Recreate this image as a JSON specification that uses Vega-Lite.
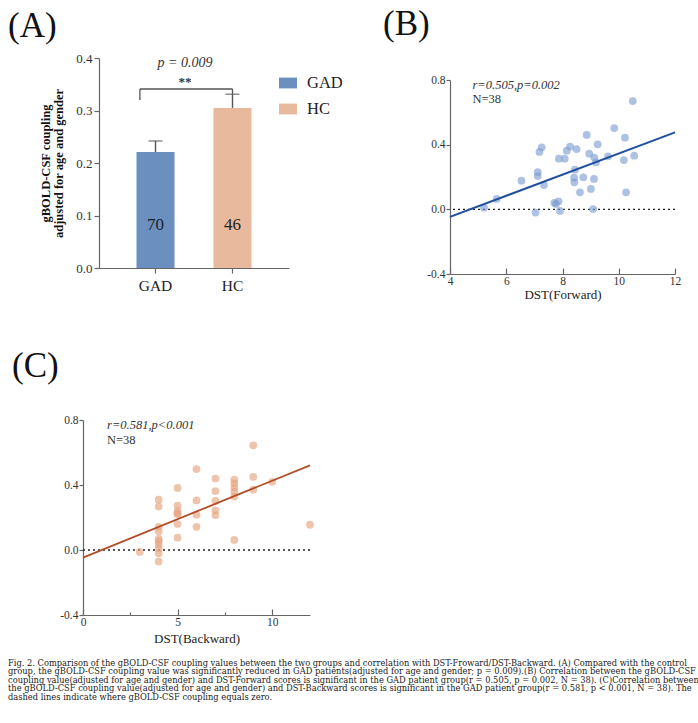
{
  "$schema": "https://vega.github.io/schema/vega-lite/v6.json",
  "background": "white",
  "padding": {"left": 8, "top": 7, "right": 5, "bottom": 5},
  "config": {
    "view": {"stroke": null},
    "font": "Liberation Serif",
    "axis": {
      "grid": false,
      "labelFlush": false,
      "labelOverlap": false,
      "domainColor": "#666666",
      "domainWidth": 1.2,
      "tickColor": "#666666",
      "tickWidth": 1.2,
      "tickSize": 5,
      "labelFont": "Liberation Serif",
      "labelColor": "#333333",
      "labelFontSize": 13,
      "titleFont": "Liberation Serif",
      "titleFontWeight": "normal",
      "titleColor": "#222222",
      "titleFontSize": 13
    },
    "title": {"font": "Liberation Serif", "fontWeight": "normal", "color": "#111111"}
  },
  "title": {
    "text": [
      "Fig. 2. Comparison of the gBOLD-CSF coupling values between the two groups and correlation with DST-Froward/DST-Backward. (A) Compared with the control",
      "group, the gBOLD-CSF coupling value was significantly reduced in GAD patients(adjusted for age and gender; p = 0.009).(B) Correlation between the gBOLD-CSF",
      "coupling value(adjusted for age and gender) and DST-Forward scores is significant in the GAD patient group(r = 0.505, p = 0.002, N = 38). (C)Correlation between",
      "the gBOLD-CSF coupling value(adjusted for age and gender) and DST-Backward scores is significant in the GAD patient group(r = 0.581, p < 0.001, N = 38). The",
      "dashed lines indicate where gBOLD-CSF coupling equals zero."
    ],
    "orient": "bottom",
    "anchor": "start",
    "frame": "bounds",
    "font": "DejaVu Serif",
    "fontSize": 8.3,
    "lineHeight": 8.5,
    "color": "#222222",
    "offset": 13
  },
  "vconcat": [
    {
      "hconcat": [
        {
          "hconcat": [
            {
              "width": 1,
              "height": 1,
              "data": {"values": []},
              "mark": {"type": "point", "opacity": 0}
            },
            {
              "width": 190,
              "height": 210,
              "title": {"text": "(A)", "fontSize": 35, "anchor": "start", "frame": "group", "dx": -91, "offset": 8},
              "layer": [
                {
                  "data": {"values": [
                    {"group": "GAD", "value": 0.221, "upper": 0.242, "n": "70"},
                    {"group": "HC", "value": 0.305, "upper": 0.331, "n": "46"}
                  ]},
                  "layer": [
                    {
                      "mark": {"type": "bar"},
                      "encoding": {
                        "x": {"field": "group", "type": "nominal", "sort": ["GAD", "HC"],
                          "scale": {"paddingInner": 0.506, "paddingOuter": 0.487},
                          "axis": {"title": null, "labelAngle": 0, "labelFontSize": 15.5, "labelPadding": 5, "labelColor": "#222222"}},
                        "y": {"field": "value", "type": "quantitative",
                          "scale": {"domain": [0, 0.4], "nice": false},
                          "axis": {"values": [0, 0.1, 0.2, 0.3, 0.4], "format": ".1f", "labelPadding": 2,
                            "title": ["gBOLD-CSF coupling", "adjusted for age and gender"],
                            "titleFontWeight": "bold", "titleFontSize": 12.5, "titlePadding": 10, "titleLineHeight": 13, "titleColor": "#111111"}},
                        "color": {"field": "group", "type": "nominal",
                          "scale": {"domain": ["GAD", "HC"], "range": ["#6b8fbf", "#e8b99c"]},
                          "legend": {"title": null, "orient": "none", "legendX": 196, "legendY": 16,
                            "symbolType": "M-1,-0.6H1V0.6H-1Z", "symbolSize": 324, "symbolStrokeWidth": 0,
                            "labelFontSize": 16.5, "labelFont": "Liberation Serif", "labelColor": "#222222",
                            "labelOffset": 10, "rowPadding": 8, "padding": 0}}
                      }
                    },
                    {
                      "mark": {"type": "rule", "color": "#555555", "strokeWidth": 1.4},
                      "encoding": {
                        "x": {"field": "group", "type": "nominal", "sort": ["GAD", "HC"]},
                        "y": {"field": "value", "type": "quantitative"},
                        "y2": {"field": "upper"}
                      }
                    },
                    {
                      "mark": {"type": "tick", "color": "#555555", "thickness": 1.4, "size": 14, "orient": "horizontal"},
                      "encoding": {
                        "x": {"field": "group", "type": "nominal", "sort": ["GAD", "HC"]},
                        "y": {"field": "upper", "type": "quantitative"}
                      }
                    },
                    {
                      "mark": {"type": "text", "fontSize": 17, "color": "#222222", "font": "Liberation Serif"},
                      "encoding": {
                        "x": {"field": "group", "type": "nominal", "sort": ["GAD", "HC"]},
                        "y": {"datum": 0.082, "type": "quantitative"},
                        "text": {"field": "n"}
                      }
                    }
                  ]
                },
                {
                  "data": {"values": [
                    {"g1": "GAD", "y1": 0.32, "y2": 0.341},
                    {"g1": "HC", "y1": 0.331, "y2": 0.341}
                  ]},
                  "layer": [
                    {
                      "transform": [{"filter": "datum.g1 == 'GAD'"}],
                      "mark": {"type": "rule", "color": "#555555", "strokeWidth": 1.3},
                      "encoding": {
                        "x": {"field": "g1", "type": "nominal", "sort": ["GAD", "HC"], "bandPosition": 0.09},
                        "y": {"field": "y1", "type": "quantitative"},
                        "y2": {"field": "y2"}
                      }
                    },
                    {
                      "transform": [{"filter": "datum.g1 == 'HC'"}],
                      "mark": {"type": "rule", "color": "#555555", "strokeWidth": 1.3},
                      "encoding": {
                        "x": {"field": "g1", "type": "nominal", "sort": ["GAD", "HC"], "bandPosition": 0.5},
                        "y": {"field": "y1", "type": "quantitative"},
                        "y2": {"field": "y2"}
                      }
                    }
                  ]
                },
                {
                  "data": {"values": [{"a": "GAD", "b": "HC", "y": 0.341}]},
                  "mark": {"type": "rule", "color": "#555555", "strokeWidth": 1.3},
                  "encoding": {
                    "x": {"field": "a", "type": "nominal", "sort": ["GAD", "HC"], "bandPosition": 0.09},
                    "x2": {"field": "b", "bandPosition": 0.5},
                    "y": {"field": "y", "type": "quantitative"}
                  }
                },
                {
                  "data": {"values": [{"label": "p = 0.009", "y": 0.39}, {"label": "**", "y": 0.355}]},
                  "layer": [
                    {
                      "transform": [{"filter": "datum.label != '**'"}],
                      "mark": {"type": "text", "fontSize": 14, "fontStyle": "italic", "color": "#333333", "dx": -9},
                      "encoding": {"y": {"field": "y", "type": "quantitative"}, "text": {"field": "label"}}
                    },
                    {
                      "transform": [{"filter": "datum.label == '**'"}],
                      "mark": {"type": "text", "fontSize": 13, "fontWeight": "bold", "color": "#333333", "dx": -9},
                      "encoding": {"y": {"field": "y", "type": "quantitative"}, "text": {"field": "label"}}
                    }
                  ]
                }
              ]
            }
          ],
          "spacing": -76
        },
        {
          "vconcat": [
            {
              "width": 1,
              "height": 1,
              "data": {"values": []},
              "mark": {"type": "point", "opacity": 0}
            },
            {
              "width": 225,
              "height": 194,
              "title": {"text": "(B)", "fontSize": 35, "anchor": "start", "frame": "group", "dx": -67, "offset": 32},
              "layer": [
                {
                  "data": {"values": [{"y": 0}]},
                  "mark": {"type": "rule", "color": "#222222", "strokeDash": [2, 3], "strokeWidth": 1.3},
                  "encoding": {"y": {"field": "y", "type": "quantitative"}}
                },
                {
                  "data": {"values": [
                    {"x": 5.21, "y": 0.01}, {"x": 5.66, "y": 0.064}, {"x": 6.54, "y": 0.177}, {"x": 7.04, "y": -0.02},
                    {"x": 7.12, "y": 0.23}, {"x": 7.12, "y": 0.206}, {"x": 7.18, "y": 0.355}, {"x": 7.26, "y": 0.384},
                    {"x": 7.34, "y": 0.15}, {"x": 7.71, "y": 0.04}, {"x": 7.77, "y": 0.033}, {"x": 7.86, "y": 0.05},
                    {"x": 7.91, "y": -0.01}, {"x": 7.87, "y": 0.313}, {"x": 8.08, "y": 0.313}, {"x": 8.15, "y": 0.363},
                    {"x": 8.27, "y": 0.388}, {"x": 8.5, "y": 0.373}, {"x": 8.44, "y": 0.245}, {"x": 8.41, "y": 0.196},
                    {"x": 8.42, "y": 0.167}, {"x": 8.62, "y": 0.105}, {"x": 8.74, "y": 0.198}, {"x": 8.86, "y": 0.46},
                    {"x": 8.95, "y": 0.344}, {"x": 9.01, "y": 0.126}, {"x": 9.09, "y": 0.002}, {"x": 9.12, "y": 0.188},
                    {"x": 9.13, "y": 0.32}, {"x": 9.19, "y": 0.29}, {"x": 9.25, "y": 0.402}, {"x": 9.62, "y": 0.328},
                    {"x": 9.84, "y": 0.503}, {"x": 10.18, "y": 0.305}, {"x": 10.22, "y": 0.443}, {"x": 10.26, "y": 0.105},
                    {"x": 10.5, "y": 0.67}, {"x": 10.55, "y": 0.332}
                  ]},
                  "mark": {"type": "circle", "color": "#7b9bd0", "opacity": 0.62, "size": 60},
                  "encoding": {
                    "x": {"field": "x", "type": "quantitative",
                      "scale": {"domain": [4, 12], "nice": false, "zero": false},
                      "axis": {"values": [4, 5, 6, 7, 8, 9, 10, 11, 12], "labelExpr": "datum.value % 2 == 0 ? datum.label : ''",
                        "tickSize": {"condition": {"test": "datum.value % 2 == 0", "value": -6}, "value": -3},
                        "labelFontSize": 11.5, "title": "DST(Forward)", "labelPadding": 7, "titlePadding": 2}},
                    "y": {"field": "y", "type": "quantitative",
                      "scale": {"domain": [-0.4, 0.8], "nice": false, "zero": false},
                      "axis": {"values": [-0.4, 0, 0.4, 0.8], "format": ".1f", "labelExpr": "replace(datum.label, '\u2212', '-')",
                        "labelFontSize": 11.5, "title": null, "tickSize": 4, "labelPadding": 1}}
                  }
                },
                {
                  "data": {"values": [{"x": 4, "y": -0.047}, {"x": 12, "y": 0.476}]},
                  "mark": {"type": "line", "color": "#1f4f9e", "strokeWidth": 2},
                  "encoding": {"x": {"field": "x", "type": "quantitative"}, "y": {"field": "y", "type": "quantitative"}}
                },
                {
                  "data": {"values": [{"x": 4.8, "y": 0.77, "t": "r=0.505,p=0.002"}]},
                  "mark": {"type": "text", "align": "left", "fontSize": 12.5, "fontStyle": "italic", "color": "#333333"},
                  "encoding": {"x": {"field": "x", "type": "quantitative"}, "y": {"field": "y", "type": "quantitative"}, "text": {"field": "t"}}
                },
                {
                  "data": {"values": [{"x": 4.8, "y": 0.68, "t": "N=38"}]},
                  "mark": {"type": "text", "align": "left", "fontSize": 12.5, "color": "#333333"},
                  "encoding": {"x": {"field": "x", "type": "quantitative"}, "y": {"field": "y", "type": "quantitative"}, "text": {"field": "t"}}
                }
              ]
            }
          ],
          "spacing": -52
        }
      ],
      "spacing": 94
    },
    {
      "width": 227,
      "height": 195,
      "title": {"text": "(C)", "fontSize": 35, "anchor": "start", "frame": "group", "dx": -71, "offset": 30},
      "layer": [
        {
          "data": {"values": [{"y": 0}]},
          "mark": {"type": "rule", "color": "#222222", "strokeDash": [2, 3], "strokeWidth": 1.3},
          "encoding": {"y": {"field": "y", "type": "quantitative"}}
        },
        {
          "data": {"values": [
            {"x": 3, "y": -0.012},
            {"x": 4, "y": 0.31}, {"x": 4, "y": 0.267}, {"x": 4, "y": 0.143}, {"x": 4, "y": 0.115}, {"x": 4, "y": 0.068},
            {"x": 4, "y": 0.055}, {"x": 4, "y": 0.035}, {"x": 4, "y": 0.01}, {"x": 4, "y": -0.02}, {"x": 4, "y": -0.07},
            {"x": 5, "y": 0.382}, {"x": 5, "y": 0.273}, {"x": 5, "y": 0.24}, {"x": 5, "y": 0.226}, {"x": 5, "y": 0.22},
            {"x": 5, "y": 0.16}, {"x": 5, "y": 0.076},
            {"x": 6, "y": 0.498}, {"x": 6, "y": 0.305}, {"x": 6, "y": 0.217}, {"x": 6, "y": 0.143},
            {"x": 7, "y": 0.44}, {"x": 7, "y": 0.363}, {"x": 7, "y": 0.302}, {"x": 7, "y": 0.244}, {"x": 7, "y": 0.215},
            {"x": 8, "y": 0.433}, {"x": 8, "y": 0.41}, {"x": 8, "y": 0.384}, {"x": 8, "y": 0.359}, {"x": 8, "y": 0.33},
            {"x": 8, "y": 0.062},
            {"x": 9, "y": 0.644}, {"x": 9, "y": 0.45}, {"x": 9, "y": 0.371},
            {"x": 10, "y": 0.42},
            {"x": 12, "y": 0.156}
          ]},
          "mark": {"type": "circle", "color": "#e6a480", "opacity": 0.65, "size": 60},
          "encoding": {
            "x": {"field": "x", "type": "quantitative",
              "scale": {"domain": [0, 12], "nice": false, "zero": false},
              "axis": {"values": [0, 2.5, 5, 7.5, 10], "labelExpr": "datum.value % 5 == 0 ? datum.label : ''",
                "tickSize": {"condition": {"test": "datum.value % 5 == 0", "value": -6}, "value": -3},
                "labelFontSize": 11.5, "title": "DST(Backward)", "labelPadding": 7, "titlePadding": 2}},
            "y": {"field": "y", "type": "quantitative",
              "scale": {"domain": [-0.4, 0.8], "nice": false, "zero": false},
              "axis": {"values": [-0.4, 0, 0.4, 0.8], "format": ".1f", "labelExpr": "replace(datum.label, '\u2212', '-')",
                "labelFontSize": 11.5, "title": null, "tickSize": 4, "labelPadding": 1}}
          }
        },
        {
          "data": {"values": [{"x": 0, "y": -0.047}, {"x": 12, "y": 0.521}]},
          "mark": {"type": "line", "color": "#b24e27", "strokeWidth": 1.8},
          "encoding": {"x": {"field": "x", "type": "quantitative"}, "y": {"field": "y", "type": "quantitative"}}
        },
        {
          "data": {"values": [{"x": 1.27, "y": 0.77, "t": "r=0.581,p<0.001"}]},
          "mark": {"type": "text", "align": "left", "fontSize": 12.5, "fontStyle": "italic", "color": "#333333"},
          "encoding": {"x": {"field": "x", "type": "quantitative"}, "y": {"field": "y", "type": "quantitative"}, "text": {"field": "t"}}
        },
        {
          "data": {"values": [{"x": 1.27, "y": 0.68, "t": "N=38"}]},
          "mark": {"type": "text", "align": "left", "fontSize": 12.5, "color": "#333333"},
          "encoding": {"x": {"field": "x", "type": "quantitative"}, "y": {"field": "y", "type": "quantitative"}, "text": {"field": "t"}}
        }
      ]
    }
  ],
  "spacing": 47
}
